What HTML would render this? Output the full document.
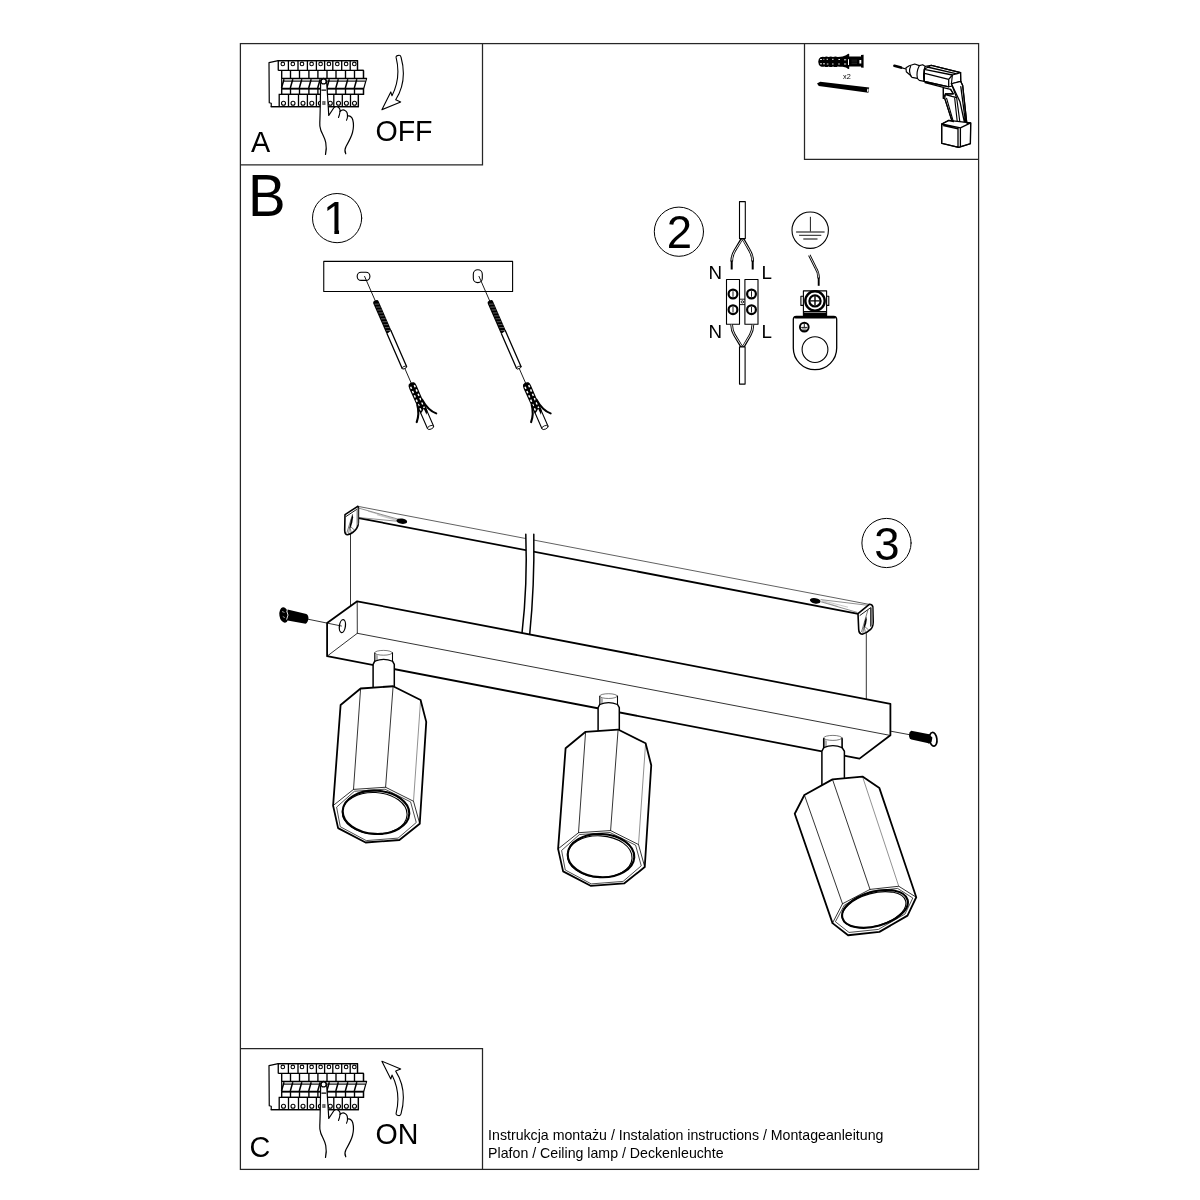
<!DOCTYPE html>
<html lang="pl">
<head>
<meta charset="utf-8">
<title>Instrukcja montażu</title>
<style>
html,body{margin:0;padding:0;background:#fff;}
body{width:1200px;height:1200px;overflow:hidden;position:relative;font-family:"Liberation Sans",sans-serif;}
svg{position:absolute;left:0;top:0;display:block;will-change:transform;}
text{font-family:"Liberation Sans",sans-serif;fill:#000;}
.f{fill:none;stroke:#262626;stroke-width:1.25;}
.b{fill:none;stroke:#000;stroke-width:1.8;stroke-linejoin:round;stroke-linecap:round;}
.m{fill:none;stroke:#000;stroke-width:1.2;stroke-linejoin:round;stroke-linecap:round;}
.t{fill:none;stroke:#000;stroke-width:0.8;stroke-linejoin:round;stroke-linecap:round;}
.h{fill:none;stroke:#222;stroke-width:0.5;stroke-linecap:round;}
.w{fill:#fff;}
.k{fill:#000;stroke:none;}
</style>
</head>
<body>
<svg width="1200" height="1200" viewBox="0 0 1200 1200">
<!-- frames -->
<g class="f">
<rect x="240.4" y="43.6" width="738.2" height="1125.8"/>
<path d="M240.4 164.9H482.5V43.6"/>
<path d="M804.5 43.6V159.4H978.6"/>
<path d="M240.4 1048.5H482.5V1169.4"/>
</g>
<!-- labels -->
<text transform="translate(250.9 152) scale(1 1.04)" font-size="28.8">A</text>
<text transform="translate(375.4 140.5) scale(1 1.04)" font-size="28.6">OFF</text>
<text transform="translate(247.9 215.9) scale(1 1.04)" font-size="56.4">B</text>
<text transform="translate(249.6 1156.9) scale(1 1.04)" font-size="28.8">C</text>
<text transform="translate(375.4 1143.7) scale(1 1.04)" font-size="28.6">ON</text>
<text transform="translate(488.1 1140.4) scale(1 1.04)" font-size="14.18">Instrukcja montażu / Instalation instructions / Montageanleitung</text>
<text transform="translate(488.1 1158.2) scale(1 1.04)" font-size="14.18">Plafon / Ceiling lamp / Deckenleuchte</text>
<text transform="translate(843.1 78.7) scale(1 1)" font-size="7.3">x2</text>
<g class="m" style="stroke-width:1">
<circle cx="337.1" cy="218.1" r="24.6"/>
<circle cx="678.9" cy="231.7" r="24.6"/>
<circle cx="886.5" cy="543" r="24.6"/>
</g>
<text x="335.7" y="234.4" font-size="45.5" text-anchor="middle">1</text>
<path class="w" d="M324.5 229.9H334.35V236H324.5ZM339.05 229.9H349V236H339.05Z"/>
<text x="679.5" y="248.4" font-size="45.5" text-anchor="middle">2</text>
<text x="886.9" y="559.6" font-size="45.5" text-anchor="middle">3</text>
<text x="708.4" y="278.9" font-size="18.8">N</text>
<text x="761.5" y="278.9" font-size="18.8">L</text>
<text x="708.4" y="337.7" font-size="18.8">N</text>
<text x="761.5" y="337.7" font-size="18.8">L</text>
<!-- step 1: ceiling strip, screws and plugs -->
<rect class="m" style="stroke-width:1.1" x="323.75" y="261.4" width="188.85" height="30.1"/>
<rect class="m w" style="stroke-width:1.1" x="357.2" y="272.2" width="12.7" height="8.2" rx="3.9"/>
<rect class="m w" style="stroke-width:1.1" x="473.3" y="269.8" width="9" height="12.8" rx="4.4"/>
<g transform="translate(364.6 276.4) rotate(-23.6)">
<path class="t" d="M0 0V26.6M0 100V117"/>
<rect class="k" x="-2.9" y="26.4" width="5.8" height="36" rx="2.2"/>
<path d="M-1.9 29.5L2.3 31.2M-1.9 32.7L2.3 34.4M-1.9 35.9L2.3 37.6M-1.9 39.1L2.3 40.8M-1.9 42.3L2.3 44M-1.9 45.5L2.3 47.2M-1.9 48.7L2.3 50.4M-1.9 51.9L2.3 53.6M-1.9 55.1L2.3 56.8M-1.9 58.3L2.3 60" fill="none" stroke="#9a9a9a" stroke-width="0.55"/>
<path class="m w" style="stroke-width:1.3" d="M-2.4 61.6V99.4Q0 101.2 2.4 99.4V60.4"/>
<ellipse class="t w" cx="0" cy="99.4" rx="2.4" ry="1.1"/>
<!-- wall plug -->
<path class="m w" style="stroke-width:1.1" d="M-3.3 140V164.6Q0 167.4 3.3 164.6V140Z"/>
<ellipse class="t w" cx="0" cy="164.8" rx="3.3" ry="1.7"/>
<path class="k" d="M-2.9 116.8Q0 114.8 2.9 116.8Q4.1 118 4 121L3.8 148L1.4 151.5L1.2 145L-1.2 147L-3.7 148.4L-4 121Q-4.1 118 -2.9 116.8Z"/>
<path d="M-2 119.5V146M2 119.5V144.5" fill="none" stroke="#fff" stroke-width="1.5" stroke-dasharray="2.4 2.3"/>
<path d="M-3.2 139Q-4.6 148 -10.6 154.4" fill="none" stroke="#000" stroke-width="2.1" stroke-linecap="round"/>
<path d="M3.4 136Q4.4 148 10.8 154.2" fill="none" stroke="#000" stroke-width="2.1" stroke-linecap="round"/>
</g>
<g transform="translate(479.0 276.4) rotate(-23.6)">
<path class="t" d="M0 0V26.6M0 100V117"/>
<rect class="k" x="-2.9" y="26.4" width="5.8" height="36" rx="2.2"/>
<path d="M-1.9 29.5L2.3 31.2M-1.9 32.7L2.3 34.4M-1.9 35.9L2.3 37.6M-1.9 39.1L2.3 40.8M-1.9 42.3L2.3 44M-1.9 45.5L2.3 47.2M-1.9 48.7L2.3 50.4M-1.9 51.9L2.3 53.6M-1.9 55.1L2.3 56.8M-1.9 58.3L2.3 60" fill="none" stroke="#9a9a9a" stroke-width="0.55"/>
<path class="m w" style="stroke-width:1.3" d="M-2.4 61.6V99.4Q0 101.2 2.4 99.4V60.4"/>
<ellipse class="t w" cx="0" cy="99.4" rx="2.4" ry="1.1"/>
<!-- wall plug -->
<path class="m w" style="stroke-width:1.1" d="M-3.3 140V164.6Q0 167.4 3.3 164.6V140Z"/>
<ellipse class="t w" cx="0" cy="164.8" rx="3.3" ry="1.7"/>
<path class="k" d="M-2.9 116.8Q0 114.8 2.9 116.8Q4.1 118 4 121L3.8 148L1.4 151.5L1.2 145L-1.2 147L-3.7 148.4L-4 121Q-4.1 118 -2.9 116.8Z"/>
<path d="M-2 119.5V146M2 119.5V144.5" fill="none" stroke="#fff" stroke-width="1.5" stroke-dasharray="2.4 2.3"/>
<path d="M-3.2 139Q-4.6 148 -10.6 154.4" fill="none" stroke="#000" stroke-width="2.1" stroke-linecap="round"/>
<path d="M3.4 136Q4.4 148 10.8 154.2" fill="none" stroke="#000" stroke-width="2.1" stroke-linecap="round"/>
</g>
<!-- step 2: wiring -->
<g>
<rect class="m w" style="stroke-width:1.1" x="739.5" y="201.6" width="5.8" height="37"/>
<!-- upper split wires (hollow) -->
<path d="M741.9 238.8L734.8 250.6Q731.8 255.6 731.7 261.5M743.1 238.8L749.7 250.6Q752.6 255.6 752.7 261.5" fill="none" stroke="#000" stroke-width="2.7" stroke-linecap="butt"/>
<path d="M741.9 239.6L734.8 250.6Q731.8 255.6 731.7 261.2M743.1 239.6L749.7 250.6Q752.6 255.6 752.7 261.2" fill="none" stroke="#fff" stroke-width="0.9"/>
<path d="M731.7 260.6V269.6M752.7 260.6V269.6" fill="none" stroke="#000" stroke-width="2"/>
<!-- terminal blocks -->
<rect class="m w" style="stroke-width:1.1" x="726.5" y="279.5" width="13" height="44.8"/>
<rect class="m w" style="stroke-width:1.1" x="744.9" y="279.5" width="13.1" height="44.8"/>
<path class="t" style="stroke-width:0.9" d="M740 299.2H744.6M740 304.6H744.6"/>
<circle class="t" cx="742.4" cy="301.9" r="1.2"/>
<g fill="#fff" stroke="#000" stroke-width="2.2">
<circle cx="733" cy="294" r="4.4"/><circle cx="751.5" cy="294" r="4.4"/>
<circle cx="733" cy="309.7" r="4.4"/><circle cx="751.5" cy="309.7" r="4.4"/>
</g>
<path d="M733 291.2V296.8M751.5 291.2V296.8M733 306.9V312.5M751.5 306.9V312.5" fill="none" stroke="#000" stroke-width="0.9"/>
<!-- lower wires -->
<path d="M731.6 324.6Q731.8 330.4 734.4 334.8L741.7 347M752.9 324.6Q752.7 330.4 750.3 334.8L743.3 347" fill="none" stroke="#000" stroke-width="2.7"/>
<path d="M731.6 324.6Q731.8 330.4 734.4 334.8L741.7 346.3M752.9 324.6Q752.7 330.4 750.3 334.8L743.3 346.3" fill="none" stroke="#fff" stroke-width="0.9"/>
<rect class="m w" style="stroke-width:1.1" x="739.5" y="346.9" width="5.6" height="37.2"/>
</g>
<!-- earth symbol -->
<g>
<circle class="m" style="stroke-width:1.1" cx="810.2" cy="230.2" r="18.2"/>
<path class="t" style="stroke-width:0.9" d="M810.4 217.2V231.6M799.5 235.3H820.9"/>
<path d="M796.1 231.9H824.6M803.3 239H817.5" fill="none" stroke="#555" stroke-width="1.5"/>
<path d="M809.3 255.1L815.5 267.6Q818.5 272 818.7 278.4" fill="none" stroke="#000" stroke-width="2.5"/>
<path d="M809 254.5L815.5 267.6Q818.5 272 818.7 278" fill="none" stroke="#fff" stroke-width="0.8"/>
<path d="M818.7 277.6V285.8" fill="none" stroke="#000" stroke-width="1.9"/>
</g>
<!-- ring terminal -->
<g>
<rect class="m w" style="stroke-width:1.1" x="800.9" y="296.3" width="27.9" height="9.1"/>
<rect class="m w" style="stroke-width:1.1" x="803.4" y="290.9" width="23.2" height="25"/>
<rect class="k" x="803.4" y="311" width="23.2" height="5.2"/>
<path d="M804.2 312.5H825.8" fill="none" stroke="#fff" stroke-width="0.5"/>
<circle cx="815" cy="300.9" r="9.7" fill="#fff" stroke="#000" stroke-width="2.4"/>
<circle cx="815" cy="300.9" r="5.6" fill="#fff" stroke="#000" stroke-width="2.2"/>
<path d="M815 296.2V305.6M810.3 300.9H819.7" fill="none" stroke="#000" stroke-width="1.4"/>
<path d="M796.3 316.4Q793.3 316.6 793.3 319.6V348A21.7 21.7 0 0 0 836.7 348V319.6Q836.7 316.6 833.7 316.4Z" fill="#fff" stroke="#000" stroke-width="1.3" stroke-linejoin="round"/>
<path d="M795.4 317.3H834.6" fill="none" stroke="#000" stroke-width="2.3" stroke-linecap="round"/>
<circle class="m" style="stroke-width:1.1" cx="815" cy="349.6" r="12.9"/>
<circle cx="804.3" cy="327.1" r="4.4" fill="#fff" stroke="#000" stroke-width="1.9"/>
<path d="M804.3 323.6V327.2M801.2 327.4H807.4" fill="none" stroke="#000" stroke-width="0.9"/>
<path d="M802 329H806.6M803 330.4H805.6" fill="none" stroke="#000" stroke-width="0.7"/>
</g>
<!-- tools box: wall plug, screw, drill -->
<g>
<path class="k" d="M818.2 61.7Q818.4 58.4 820.4 57.2Q822.6 56.2 824.4 57Q826.4 56 828.6 57Q830.8 56 833 57Q835.4 56 837.8 57Q840.4 56.4 842.6 56.4Q846.6 55.6 848.2 53.8L849.2 54.1V56.4H861V55L863.6 54.8V67.8L861 67.6V66.6H849.2V68.8L848.2 69Q846.6 67.4 842.6 66.8Q840.4 67 837.8 66.4Q835.4 67.4 833 66.4Q830.8 67.4 828.6 66.4Q826.4 67.4 824.4 66.4Q822.6 67.2 820.4 66.2Q818.4 65 818.2 61.7Z"/>
<path d="M820 59.5H822M823.4 59.3H824.3M826.6 59.3H828M832 59.3H833.6M838.4 59.5H840M844 59.8H846.2M820 63.8H822M823 63.8H825M826.8 64H828.4M832 64H833.6M838.2 64H839.8M844 64H846.2" fill="none" stroke="#fff" stroke-width="0.9"/>
<path d="M848.5 59.2V65" fill="none" stroke="#fff" stroke-width="1"/>
<rect x="859.4" y="60" width="1.9" height="3.5" fill="#fff"/>
<path d="M851.5 60.2H857M851.5 61.9H857M851.5 63.6H857" fill="none" stroke="#444" stroke-width="0.5"/>
<path class="k" d="M817 83.6L820.2 81.7L869.2 87.6L868.4 92.8L818.8 86Z"/>
<ellipse cx="867.8" cy="90.2" rx="0.75" ry="1.8" fill="#fff" transform="rotate(8 867.8 90.2)"/>
</g>
<g class="m" style="stroke-width:1.15">
<!-- bit -->
<path d="M894.4 65.8L901 67.6" style="stroke-width:2.6"/>
<path d="M901 67.6L906.2 69" style="stroke-width:1.2"/>
<!-- chuck -->
<path class="w" d="M906 67.8L909.3 65.7L914.7 64L919.3 65.6L922.7 64.7L925.4 66.4L924.3 81.4L919.3 80.4L917.3 78.4L912 77.4L910 75L906.3 71.7Z"/>
<path d="M910.6 66.4Q908.2 71 911.2 76.2M919.3 65.8Q916 72 917.4 78.4M925.4 66.6Q922.4 74 924.2 81.2"/>
<!-- motor housing -->
<path class="w" d="M924.3 69.3L925.4 66.4L931.3 65.3L960.6 72.6L960.8 81.6L961 84.4L948.7 86.8L924.3 81.4Z"/>
<path d="M931.3 65.3L960.6 72.6L952.4 75L924.3 69.3ZM927.4 67L956.8 73.8M924.3 69.3V81.4M924.7 73.4L948.7 79.4M952.4 75L948.7 79.4V86.8L924.3 81.4M925 82.6L943.4 87.4" style="stroke-width:1.3"/>
<path d="M960.6 72.6L960.8 81.4L951.4 83.8L952.4 75M961 84.6L952.6 86.6"/>
<!-- trigger -->
<path class="w" d="M943.3 87.6L950.6 89.4L953.3 93.8L945.4 93.8L943.4 98.4Z"/>
<path d="M943.3 87.6V98.4M945.4 93.8H953.3L950.6 89.4M945.4 94.6L956.6 97.8"/>
<!-- handle -->
<path class="w" d="M944.7 98.4L951.4 119.4L953.4 121.8L966.8 123L962.7 85.6L960.8 81.4L951.4 83.8L956.6 97.8L945.4 94.6Z"/>
<path d="M944.7 98.4L951.4 119.4M946.6 98.4L953.4 121.8M954.7 98.4L957.4 123M956.7 98L960 123" />
<path d="M951.4 83.8L960 101.8L964.6 123M960.8 81.4L962.7 85.6L966.8 123M960.8 86.6L965.6 123" style="stroke-width:1.3"/>
<!-- battery -->
<path class="w" d="M941.7 124L948.7 120.4L970.7 122.9L970.4 143.7L958.6 147.4L941.7 143.3Z"/>
<path d="M941.7 124L948.7 120.4L953.4 121.6M966.8 123L970.7 122.9L960.4 127.8L941.7 124V143.3L958.6 147.4L970.4 143.7L970.7 122.9M958 127.6V147.2M960.4 127.8V146.8M943.4 125.6L958 128.8" style="stroke-width:1.3"/>
</g>
<!-- breaker panels with hand -->
<g>
<path class="m w" style="stroke-width:1.2" d="M278.25 60.7L269 62.7L269.25 102.75L271.25 103.25V106.7H358.4V94.3H363.5V70.4H357.5V60.7Z"/>
<path class="m" style="stroke-width:1.3;stroke-linecap:butt" d="M277.6 60.7H358.1M278.25 70.4H363.5M278.25 60.7V70.4M288.4 60.7V70.4M298 60.7V70.4M307.4 60.7V70.4M316.4 60.7V70.4M324.6 60.7V70.4M332.8 60.7V70.4M341.7 60.7V70.4M350.2 60.7V70.4M357.5 60.7V70.4"/>
<g fill="#fff" stroke="#000" stroke-width="1.05"><circle cx="282.8" cy="63.9" r="1.8"/><circle cx="292.8" cy="63.9" r="1.8"/><circle cx="302" cy="63.9" r="1.8"/><circle cx="311.6" cy="63.9" r="1.8"/><circle cx="320.6" cy="63.9" r="1.8"/><circle cx="328.9" cy="63.9" r="1.8"/><circle cx="337.3" cy="63.9" r="1.8"/><circle cx="346.1" cy="63.9" r="1.8"/><circle cx="354.3" cy="63.9" r="1.8"/></g>
<path class="m" style="stroke-width:1.35;stroke-linecap:butt" d="M281.7 70.4V78.4M281.7 89V94.3M290.5 70.4V78.4M290.5 89V94.3M299.5 70.4V78.4M299.5 89V94.3M308.9 70.4V78.4M308.9 89V94.3M317.9 70.4V78.4M317.9 89V94.3M327 70.4V78.4M327 89V94.3M336 70.4V78.4M336 89V94.3M345.5 70.4V78.4M345.5 89V94.3M354.5 70.4V78.4M354.5 89V94.3M363.5 70.4V78.4M363.5 89V94.3M281 94.3H364.2"/>
<path d="M281.7 78.4H366.6L363.7 88.7H281.7Z" fill="#fff" stroke="#000" stroke-width="1.2" stroke-linejoin="round"/>
<path d="M283 80.05H365.6" fill="none" stroke="#808080" stroke-width="1.3"/>
<path d="M283.6 81.35H365.4" fill="none" stroke="#000" stroke-width="0.8"/>
<path d="M281.7 88.6H364" fill="none" stroke="#000" stroke-width="1.8"/>
<path fill="none" stroke="#000" stroke-width="1.5" d="M284 79.2L281.5 88M292.8 79.2L290.3 88M301.8 79.2L299.3 88M311.2 79.2L308.7 88M320.2 79.2L317.7 88M329.3 79.2L326.8 88M338.3 79.2L335.8 88M347.8 79.2L345.3 88M356.8 79.2L354.3 88"/>
<path class="m" style="stroke-width:1.3;stroke-linecap:butt" d="M278.6 94.3H358.4M270.7 106.7H359M279.2 94.3V106.7M288.5 94.3V106.7M298.5 94.3V106.7M307.4 94.3V106.7M316.4 94.3V106.7M325.2 94.3V106.7M333.8 94.3V106.7M342.3 94.3V106.7M350.5 94.3V106.7M358.4 94.3V106.7"/>
<g fill="#fff" stroke="#000" stroke-width="1.1"><circle cx="283.5" cy="103.2" r="2"/><circle cx="293" cy="103.2" r="2"/><circle cx="303" cy="103.2" r="2"/><circle cx="311.8" cy="103.2" r="2"/><circle cx="320.4" cy="103.2" r="2"/><circle cx="330.3" cy="103.2" r="2"/><circle cx="338.5" cy="103.2" r="2"/><circle cx="346.4" cy="103.2" r="2"/><circle cx="354.5" cy="103.2" r="2"/></g>
<path class="m w" style="stroke-width:1.2" d="M325.5 154.5C326.8 149 326.3 145.5 325.75 142.5C324.8 137.5 321.8 133.2 320.75 130C319.7 126.8 319.6 124.5 319.8 122.5C320.2 113 320.5 92 320.6 84C320.8 79.8 322 78.4 323.6 78.4C325.2 78.4 326.6 79.8 326.8 84C327.2 92 328.2 104 328.75 115.5L334 107.5C335.5 106.4 338 106.2 339.5 108.5C340.2 109.6 340.2 110.5 340 111.5C341.6 110 343.6 109.6 345 110.5C346.8 111.4 347.6 113.6 347.5 116C350 115.6 352 117.2 352.8 120C354 124.5 353.4 129 352.5 132.5C351.4 137 348.8 141.5 346 146.5C344.6 149.2 344.6 151.5 345.75 153.75"/>
<path class="m" style="stroke-width:1.1" d="M340 111.5C339.8 113.6 339.2 115.8 338.5 117.5M347.5 116C347.6 117.6 347.2 119 346.5 120.25M321.8 90.1H325.8"/>
<circle cx="323.6" cy="81.4" r="2.5" fill="#fff" stroke="#000" stroke-width="1.2"/>
<path d="M322.3 101.8H325.5M322.3 104.2H325.5M323 101.8V104.2M324.8 101.8V104.2" fill="none" stroke="#000" stroke-width="0.75"/>
</g>
<g transform="translate(0 1003)">
<path class="m w" style="stroke-width:1.2" d="M278.25 60.7L269 62.7L269.25 102.75L271.25 103.25V106.7H358.4V94.3H363.5V70.4H357.5V60.7Z"/>
<path class="m" style="stroke-width:1.3;stroke-linecap:butt" d="M277.6 60.7H358.1M278.25 70.4H363.5M278.25 60.7V70.4M288.4 60.7V70.4M298 60.7V70.4M307.4 60.7V70.4M316.4 60.7V70.4M324.6 60.7V70.4M332.8 60.7V70.4M341.7 60.7V70.4M350.2 60.7V70.4M357.5 60.7V70.4"/>
<g fill="#fff" stroke="#000" stroke-width="1.05"><circle cx="282.8" cy="63.9" r="1.8"/><circle cx="292.8" cy="63.9" r="1.8"/><circle cx="302" cy="63.9" r="1.8"/><circle cx="311.6" cy="63.9" r="1.8"/><circle cx="320.6" cy="63.9" r="1.8"/><circle cx="328.9" cy="63.9" r="1.8"/><circle cx="337.3" cy="63.9" r="1.8"/><circle cx="346.1" cy="63.9" r="1.8"/><circle cx="354.3" cy="63.9" r="1.8"/></g>
<path class="m" style="stroke-width:1.35;stroke-linecap:butt" d="M281.7 70.4V78.4M281.7 89V94.3M290.5 70.4V78.4M290.5 89V94.3M299.5 70.4V78.4M299.5 89V94.3M308.9 70.4V78.4M308.9 89V94.3M317.9 70.4V78.4M317.9 89V94.3M327 70.4V78.4M327 89V94.3M336 70.4V78.4M336 89V94.3M345.5 70.4V78.4M345.5 89V94.3M354.5 70.4V78.4M354.5 89V94.3M363.5 70.4V78.4M363.5 89V94.3M281 94.3H364.2"/>
<path d="M281.7 78.4H366.6L363.7 88.7H281.7Z" fill="#fff" stroke="#000" stroke-width="1.2" stroke-linejoin="round"/>
<path d="M283 80.05H365.6" fill="none" stroke="#808080" stroke-width="1.3"/>
<path d="M283.6 81.35H365.4" fill="none" stroke="#000" stroke-width="0.8"/>
<path d="M281.7 88.6H364" fill="none" stroke="#000" stroke-width="1.8"/>
<path fill="none" stroke="#000" stroke-width="1.5" d="M284 79.2L281.5 88M292.8 79.2L290.3 88M301.8 79.2L299.3 88M311.2 79.2L308.7 88M320.2 79.2L317.7 88M329.3 79.2L326.8 88M338.3 79.2L335.8 88M347.8 79.2L345.3 88M356.8 79.2L354.3 88"/>
<path class="m" style="stroke-width:1.3;stroke-linecap:butt" d="M278.6 94.3H358.4M270.7 106.7H359M279.2 94.3V106.7M288.5 94.3V106.7M298.5 94.3V106.7M307.4 94.3V106.7M316.4 94.3V106.7M325.2 94.3V106.7M333.8 94.3V106.7M342.3 94.3V106.7M350.5 94.3V106.7M358.4 94.3V106.7"/>
<g fill="#fff" stroke="#000" stroke-width="1.1"><circle cx="283.5" cy="103.2" r="2"/><circle cx="293" cy="103.2" r="2"/><circle cx="303" cy="103.2" r="2"/><circle cx="311.8" cy="103.2" r="2"/><circle cx="320.4" cy="103.2" r="2"/><circle cx="330.3" cy="103.2" r="2"/><circle cx="338.5" cy="103.2" r="2"/><circle cx="346.4" cy="103.2" r="2"/><circle cx="354.5" cy="103.2" r="2"/></g>
<path class="m w" style="stroke-width:1.2" d="M325.5 154.5C326.8 149 326.3 145.5 325.75 142.5C324.8 137.5 321.8 133.2 320.75 130C319.7 126.8 319.6 124.5 319.8 122.5C320.2 113 320.5 92 320.6 84C320.8 79.8 322 78.4 323.6 78.4C325.2 78.4 326.6 79.8 326.8 84C327.2 92 328.2 104 328.75 115.5L334 107.5C335.5 106.4 338 106.2 339.5 108.5C340.2 109.6 340.2 110.5 340 111.5C341.6 110 343.6 109.6 345 110.5C346.8 111.4 347.6 113.6 347.5 116C350 115.6 352 117.2 352.8 120C354 124.5 353.4 129 352.5 132.5C351.4 137 348.8 141.5 346 146.5C344.6 149.2 344.6 151.5 345.75 153.75"/>
<path class="m" style="stroke-width:1.1" d="M340 111.5C339.8 113.6 339.2 115.8 338.5 117.5M347.5 116C347.6 117.6 347.2 119 346.5 120.25M321.8 90.1H325.8"/>
<circle cx="323.6" cy="81.4" r="2.5" fill="#fff" stroke="#000" stroke-width="1.2"/>
<path d="M322.3 101.8H325.5M322.3 104.2H325.5M323 101.8V104.2M324.8 101.8V104.2" fill="none" stroke="#000" stroke-width="0.75"/>
</g>
<!-- arrows -->
<path class="m" style="stroke-width:1.1" d="M398.4 55.4C399.7 55.1 400.7 55.8 401 57C404.9 71 404.4 86 395.7 99.8L400.7 101.9L381.9 109.7L390.8 91.9L392 95.8C398 84 399.5 71 396.1 57.4C395.9 56.2 397 55.5 398.4 55.4Z"/>
<path class="m" style="stroke-width:1.1" transform="translate(0 1170.9) scale(1 -1)" d="M398.4 55.4C399.7 55.1 400.7 55.8 401 57C404.9 71 404.4 86 395.7 99.8L400.7 101.9L381.9 109.7L390.8 91.9L392 95.8C398 84 399.5 71 396.1 57.4C395.9 56.2 397 55.5 398.4 55.4Z"/>
<!-- step 3: lamp assembly -->
<g id="bracket">
<path class="h" style="stroke-width:0.85;stroke:#444" d="M357.7 506.3L870.3 604.6"/>
<path class="b" d="M358.7 518.1L858.2 613.8"/>
<!-- holes with chamfer shading -->
<path d="M359 508.2L399 519.4M359.4 517.6L396.6 521.2" fill="none" stroke="#444" stroke-width="0.6"/><path d="M368 511.2L397 519.8M377 514.8L397 520.6" fill="none" stroke="#888" stroke-width="0.45"/>
<ellipse class="k" cx="401.8" cy="521.2" rx="5.4" ry="2.7" transform="rotate(8 401.8 521.2)"/>
<path d="M868.6 605.4L820.6 599.6M857.2 612.4L821 601.8" fill="none" stroke="#444" stroke-width="0.6"/><path d="M848 607.2L822.4 600.6M838 606.4L822 601.4" fill="none" stroke="#888" stroke-width="0.45"/>
<ellipse class="k" cx="815.2" cy="600.8" rx="5.4" ry="2.7" transform="rotate(10 815.2 600.8)"/>
<!-- left tab -->
<path class="b w" style="stroke-width:1.6" d="M357.7 506.3L345 514.7L344.7 530.2Q344.8 534.6 347.6 534.8Q353.2 533.4 356.6 528.5Q358.4 525.8 358.4 522.5L358.4 507.4Z"/>
<path d="M356.5 508.6L358.3 507.8V523.6L356.5 526.6Z" fill="#8f8f8f"/>
<path class="t" style="stroke-width:0.9" d="M346.2 516.4L356.4 509.6"/>
<path class="k" d="M352.7 514.2L350.9 519.4L349.4 527.6L350.7 527.8L352.3 522.4L353.1 517.2Z"/>
<path class="h" style="stroke-width:0.6" d="M352.5 514.6L347 532.4M350 527.4L351.3 532.8M350.6 526.6L354.6 530.2M349.6 527.6L348.6 533.4"/>
<!-- right tab -->
<path class="b w" style="stroke-width:1.6" d="M858 613.7L869.3 604.3Q872.2 604.2 872.8 606.8L873.2 622Q873 627.2 870.6 629.4Q866.6 633.2 862.2 634.2Q858.9 633.8 858.7 629.4Z"/>
<path d="M870.7 607.8L872.5 607V624.4L870.7 626.8Z" fill="#8f8f8f"/>
<path class="t" style="stroke-width:0.9" d="M860 615.4L870.7 607.6V626.2"/>
<path class="k" d="M866.2 616.4L864.6 621.4L863.6 627.4L864.8 627.6L866.2 623.4L866.8 619.6Z"/>
<path class="h" style="stroke-width:0.6" d="M867.8 610.4L861.6 631.6M864.2 627.4L865.4 632.2M864.8 626.6L868.4 629.8M863.8 627.6L862.8 633.2"/>
</g>
<path class="t" d="M350.5 534.2V605.6M866.3 633.6V698.8"/>
<!-- cable -->
<path class="w" d="M525.8 534.2Q527.6 585 522 633.4L529.7 634.6Q534.6 585 533.8 534.2Z"/>
<path class="m" style="stroke-width:1.5" d="M525.8 534.2Q527.6 585 522 633.2M533.8 534.2Q534.6 585 529.7 634.4"/>
<!-- box -->
<g id="box">
<path class="w" d="M327.1 622.9L357.2 601.3L890.4 703.8V735.2L859.5 758.6L327.1 656.2Z"/>
<path class="t" d="M357.2 601.3L357.3 633.3L327.1 656.2M357.3 633.3L889.6 735.3"/>
<path class="b" d="M327.1 656.2V622.9L357.2 601.3L890.4 703.8V735.2L859.5 758.6Z"/>
<ellipse class="m" style="stroke-width:1.3" cx="342.4" cy="626.1" rx="3" ry="6.5" transform="rotate(8 342.4 626.1)"/>
</g>
<!-- screws -->
<path class="t" d="M307.5 619.1L341.4 626M890.8 731.2L909.6 734.7"/>
<g id="screwL">
<path class="k" d="M287.6 609.6L306.4 614Q308.6 615 308.4 618.6Q308 622.6 305.6 623.8L287.6 620.4Z"/>
<ellipse class="k" cx="284" cy="615" rx="4.6" ry="7.7" transform="rotate(-8 284 615)"/>
<path d="M286.6 610.6Q289.4 615 286.6 619.6" fill="none" stroke="#fff" stroke-width="0.9"/>
<path d="M282 611.5L284.5 612.5M282.8 616.5L284.8 617.6" fill="none" stroke="#fff" stroke-width="0.6"/>
</g>
<g id="screwR">
<path class="k" d="M911.2 730.8Q908.8 732 909 735.4Q909.2 738.8 911.4 739.4L929.6 743.6L930.6 734.6Z"/>
<ellipse cx="933.2" cy="739.3" rx="3.7" ry="6.9" transform="rotate(-8 933.2 739.3)" fill="#fff" stroke="#000" stroke-width="1.7"/>
<path class="k" d="M928.6 734L932.4 737.6L931.6 742L928.4 743.8Z"/>
</g>
<!-- lamp heads -->
<g>
<path class="w" d="M374.75 653V661.2L373.1 664.4V688H394.3V664.4L392.5 661.2V652.6Z"/>
<ellipse class="h w" style="stroke-width:0.6" cx="383.6" cy="652.8" rx="8.9" ry="2.4"/>
<path class="m" style="stroke-width:1.05" d="M374.75 653V661.2M392.5 653V661.2"/>
<path class="h" d="M376 655V660.6M377.2 655.6V660.2"/>
<path class="m" d="M374.75 661.2Q383.6 657.4 392.5 661.2"/>
<path class="b" style="stroke-width:1.5" d="M374.75 661.2L373.1 664.4V687.6M392.5 661.2L394.3 664.4V686.4"/>
<path class="w" d="M340.6 705L360.6 688.5L393.1 686.25L420.6 700L426.25 721.9L419.75 823.75L399.4 840L365.6 842.5L338.1 828.1L333.1 805.6Z"/>
<path class="t" d="M360.6 688.5L353.5 789.4M393.1 686.25L385.6 787.25"/>
<path class="h" d="M420.6 700L413.5 801.25"/>
<path class="t" d="M333.1 805.6L353.5 789.4L385.6 787.25L413.5 801.25L419.75 823.75"/>
<path class="t" style="stroke-width:0.7" d="M336.9 806.9L354.4 791.25L385 789.2L410.6 801.9L416.25 822.5L398.1 838.1L366.25 840.6L340.6 826.9Z"/>
<path class="b" d="M426.25 721.9L420.6 700L393.1 686.25L360.6 688.5L340.6 705L333.1 805.6L338.1 828.1L365.6 842.5L399.4 840L419.75 823.75Z"/>
<ellipse class="b" style="stroke-width:2.1" cx="376" cy="812.3" rx="33.3" ry="21.6" transform="rotate(3 376 812.3)"/>
<ellipse class="t" style="stroke-width:1.1" cx="374.7" cy="813.3" rx="32.4" ry="20.8" transform="rotate(3 374.7 813.3)"/>
</g>
<g transform="translate(225 43.3)">
<path class="w" d="M374.75 653V661.2L373.1 664.4V688H394.3V664.4L392.5 661.2V652.6Z"/>
<ellipse class="h w" style="stroke-width:0.6" cx="383.6" cy="652.8" rx="8.9" ry="2.4"/>
<path class="m" style="stroke-width:1.05" d="M374.75 653V661.2M392.5 653V661.2"/>
<path class="h" d="M376 655V660.6M377.2 655.6V660.2"/>
<path class="m" d="M374.75 661.2Q383.6 657.4 392.5 661.2"/>
<path class="b" style="stroke-width:1.5" d="M374.75 661.2L373.1 664.4V687.6M392.5 661.2L394.3 664.4V686.4"/>
<path class="w" d="M340.6 705L360.6 688.5L393.1 686.25L420.6 700L426.25 721.9L419.75 823.75L399.4 840L365.6 842.5L338.1 828.1L333.1 805.6Z"/>
<path class="t" d="M360.6 688.5L353.5 789.4M393.1 686.25L385.6 787.25"/>
<path class="h" d="M420.6 700L413.5 801.25"/>
<path class="t" d="M333.1 805.6L353.5 789.4L385.6 787.25L413.5 801.25L419.75 823.75"/>
<path class="t" style="stroke-width:0.7" d="M336.9 806.9L354.4 791.25L385 789.2L410.6 801.9L416.25 822.5L398.1 838.1L366.25 840.6L340.6 826.9Z"/>
<path class="b" d="M426.25 721.9L420.6 700L393.1 686.25L360.6 688.5L340.6 705L333.1 805.6L338.1 828.1L365.6 842.5L399.4 840L419.75 823.75Z"/>
<ellipse class="b" style="stroke-width:2.1" cx="376" cy="812.3" rx="33.3" ry="21.6" transform="rotate(3 376 812.3)"/>
<ellipse class="t" style="stroke-width:1.1" cx="374.7" cy="813.3" rx="32.4" ry="20.8" transform="rotate(3 374.7 813.3)"/>
</g>
<g>
<path class="w" d="M823.75 738.5V747.6L821.9 751.25V786H844.4V751.25L842.1 747.6V738.5Z"/>
<ellipse class="h w" style="stroke-width:0.6" cx="832.9" cy="737.9" rx="9.2" ry="2.5"/>
<path class="m" style="stroke-width:1.6" d="M823.75 738.8V747.6M842.1 738.8V747.6"/>
<path class="h" d="M825 740.5V746.6M826.2 741V746.2"/>
<path class="m" d="M823.75 747.6Q832.9 743.6 842.1 747.6"/>
<path class="b" style="stroke-width:1.5" d="M823.75 747.6L821.9 751.25V785M842.1 747.6L844.4 751.25V777.6"/>
<path class="w" d="M794.75 813.75L804.4 795L832.5 779.4L862.5 776.6L879.4 788.1L916.25 897.25L907.5 915.6L879.4 931.9L848.1 935.25L832.5 923.1Z"/>
<path class="t" d="M804.4 795L842.5 903.75M832.5 779.4L870 889.4"/>
<path class="h" d="M862.5 776.6L898.75 886.25"/>
<path class="t" d="M832.5 923.1L842.5 903.75L870 889.4L898.75 886.25L916.25 897.25"/>
<path class="t" style="stroke-width:0.7" d="M835.6 921.4L844.4 905L870.6 891.4L897.6 888.4L912.8 898L905 914L878.4 929.4L849.4 932.4Z"/>
<path class="b" d="M879.4 788.1L862.5 776.6L832.5 779.4L804.4 795L794.75 813.75L832.5 923.1L848.1 935.25L879.4 931.9L907.5 915.6L916.25 897.25Z"/>
<ellipse class="b" style="stroke-width:2.1" cx="875" cy="908.9" rx="33.8" ry="17.2" transform="rotate(-15.5 875 908.9)"/>
<ellipse class="t" style="stroke-width:1.1" cx="874" cy="909.7" rx="32.8" ry="16.4" transform="rotate(-15.5 874 909.7)"/>
</g>
</svg>
</body>
</html>
